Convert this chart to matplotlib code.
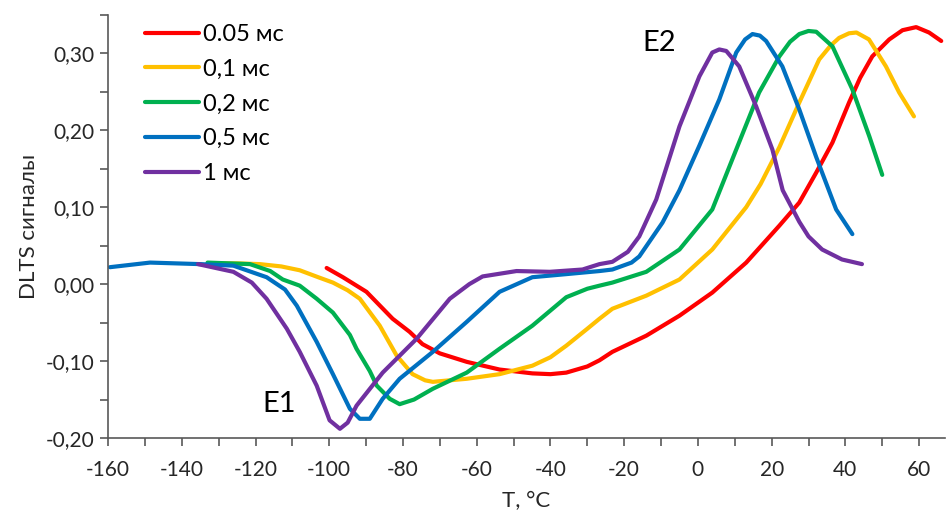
import numpy as np
import matplotlib
matplotlib.use("Agg")
import matplotlib.pyplot as plt
from matplotlib.ticker import MultipleLocator, FuncFormatter

plt.rcParams['font.family'] = ['Lato', 'DejaVu Sans']
plt.rcParams['axes.unicode_minus'] = False

# series: temperature (C) and DLTS signal
t_005 = [-100.7, -96.3, -89.9, -82.8, -78.2, -74.7, -70, -62.7, -53.8, -44.9, -40, -35.7, -30, -26.7,
         -23.2, -14, -5, 3.9, 13.1, 22.1, 27.5, 32.1, 36.5, 41.0, 44, 47.3, 51.9, 55.5, 59.2, 62.7, 66]
v_005 = [0.021, 0.009, -0.010, -0.045, -0.062, -0.078, -0.090, -0.101, -0.111, -0.116, -0.117, -0.115, -0.107, -0.099,
         -0.088, -0.067, -0.041, -0.011, 0.028, 0.076, 0.106, 0.145, 0.184, 0.236, 0.268, 0.296, 0.318, 0.330, 0.334, 0.327, 0.316]

t_01 = [-133, -125, -118.8, -113, -108, -103, -99, -95, -91.7, -86.3, -81.7, -77.4, -74, -71.9, -62.7, -53.8, -44.9, -40, -35.7,
        -30, -26.7, -23.2, -14, -5, 3.9, 13.1, 17, 22.1, 27.5, 32.9, 36, 38.3, 41, 43, 46.4, 51, 54.6, 58.6]
v_01 = [0.027, 0.027, 0.026, 0.023, 0.018, 0.009, 0.002, -0.008, -0.019, -0.054, -0.093, -0.117, -0.125, -0.127, -0.123, -0.117, -0.106, -0.095, -0.080,
        -0.058, -0.045, -0.032, -0.015, 0.006, 0.045, 0.100, 0.130, 0.178, 0.236, 0.292, 0.310, 0.320, 0.326, 0.327, 0.318, 0.283, 0.249, 0.218]

t_02 = [-133, -121.5, -116, -112.6, -108, -103.4, -99, -94.4, -92.6, -89, -87.1, -83.6, -80.9, -77, -71.9, -62.7, -53.8,
        -44.9, -35.7, -30, -26.7, -23.2, -14, -5, 3.9, 10.4, 16.6, 22.1, 25, 27.5, 30, 32.1, 36.5, 41.9, 46.5, 50]
v_02 = [0.028, 0.026, 0.017, 0.006, -0.002, -0.019, -0.037, -0.066, -0.084, -0.113, -0.132, -0.149, -0.156, -0.150, -0.136, -0.115, -0.084,
        -0.054, -0.017, -0.006, -0.002, 0.002, 0.016, 0.045, 0.097, 0.175, 0.249, 0.296, 0.315, 0.325, 0.329, 0.328, 0.309, 0.253, 0.192, 0.142]

t_05 = [-159.5, -148.6, -135, -126, -117, -112, -108.8, -103.4, -99, -94.4, -91.7, -89, -85.5, -80.9, -71.9, -62.7,
        -53.8, -44.9, -35.7, -26.7, -23.2, -18, -15.9, -9.6, -5, 0.4, 5.8, 10.4, 12.8, 14.8, 16.8, 18.5, 22.9, 27.5, 32.1, 37.5, 41.9]
v_05 = [0.022, 0.028, 0.026, 0.024, 0.009, -0.007, -0.028, -0.075, -0.117, -0.162, -0.175, -0.175, -0.149, -0.123, -0.088, -0.049,
        -0.010, 0.009, 0.013, 0.017, 0.019, 0.028, 0.036, 0.080, 0.122, 0.180, 0.240, 0.301, 0.318, 0.325, 0.323, 0.316, 0.283, 0.227, 0.165, 0.097, 0.065]

t_1 = [-135.6, -126, -121, -117, -111.5, -108, -103.4, -99.9, -97.1, -95, -92.6, -85.5, -76.3, -67.3, -62, -58.4, -49.2, -40.2,
       -31.3, -26.7, -23.2, -19, -15.9, -11.3, -5, 0.4, 3.9, 5.8, 7.7, 11.2, 15.8, 20.2, 23, 27.5, 30, 33.7, 39.1, 44.5]
v_1 = [0.026, 0.016, 0.002, -0.019, -0.058, -0.088, -0.132, -0.177, -0.188, -0.180, -0.158, -0.115, -0.071, -0.019, 0.000, 0.010, 0.017, 0.016,
       0.019, 0.026, 0.029, 0.042, 0.062, 0.110, 0.205, 0.270, 0.301, 0.305, 0.303, 0.283, 0.231, 0.175, 0.122, 0.081, 0.062, 0.045, 0.032, 0.026]

labels = ['0.05 мс', '0,1 мс', '0,2 мс', '0,5 мс', '1 мс']
colors = ['#FF0000', '#FFC000', '#00B050', '#0070C0', '#7030A0']

fig = plt.figure(figsize=(9.51, 5.18), dpi=100)
ax = fig.add_axes([0.1136, 0.1544, 0.88, 0.817])

for t, v, lab, c in zip([t_005, t_01, t_02, t_05, t_1], [v_005, v_01, v_02, v_05, v_1], labels, colors):
    ax.plot(t, v, color=c, lw=3, label=lab, solid_capstyle='round', solid_joinstyle='round')

ax.set_xlim(-160, 67)
ax.set_ylim(-0.2, 0.35)
ax.xaxis.set_major_locator(MultipleLocator(20))
ax.xaxis.set_minor_locator(MultipleLocator(10))
ax.yaxis.set_major_locator(MultipleLocator(0.1))
ax.yaxis.set_minor_locator(MultipleLocator(0.05))
ax.yaxis.set_major_formatter(FuncFormatter(lambda y, p: ('%.2f' % y).replace('.', ',').replace('-0,00', '0,00')))

for s in ['top', 'right']:
    ax.spines[s].set_visible(False)
for s in ['left', 'bottom']:
    ax.spines[s].set_color('#595959')
    ax.spines[s].set_linewidth(1.2)
ax.tick_params(which='both', direction='out', length=6, width=1.2, color='#595959',
               labelsize=15, labelcolor='#262626')
ax.tick_params(axis='x', pad=10)

ax.set_xlabel('T, °C', fontsize=16, color='#262626', labelpad=8)
ax.set_ylabel('DLTS сигналы', fontsize=16, color='#262626', labelpad=5)

ax.text(-113.7, -0.156, 'E1', fontsize=21, ha='center', va='center')
ax.text(-10.4, 0.314, 'E2', fontsize=21, ha='center', va='center')

ax.legend(loc='upper left', bbox_to_anchor=(145 / 951, 1 - 24 / 518), bbox_transform=fig.transFigure,
          frameon=False, fontsize=17, handlelength=2.3, handletextpad=0.15, labelspacing=0.58,
          borderpad=0, borderaxespad=0)

fig.savefig('out.png', dpi=100)
